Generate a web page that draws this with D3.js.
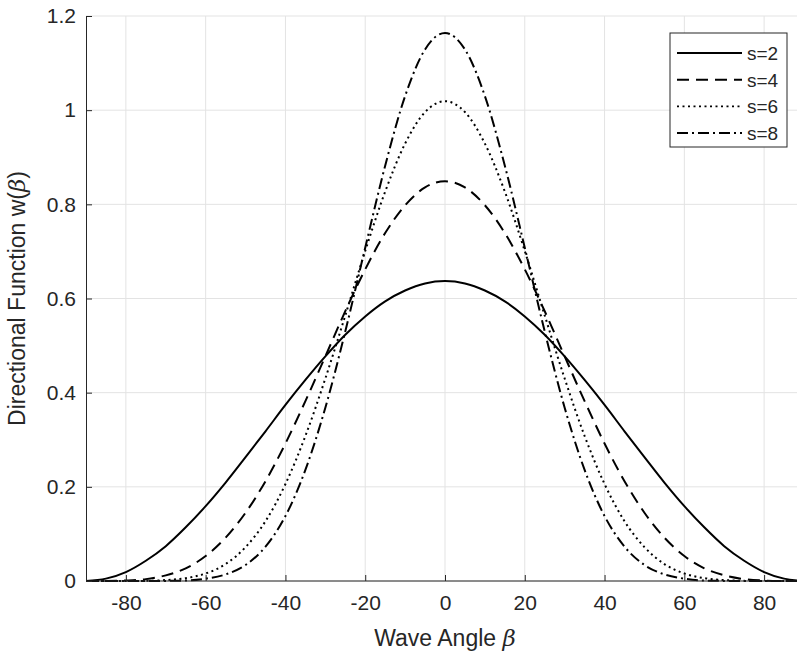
<!DOCTYPE html>
<html lang="en">
<head>
<meta charset="UTF-8">
<title>Directional Function</title>
<style>
  body { margin: 0; background: #fff; overflow: hidden; }
  svg { display: block; font-family: "Liberation Sans", Arial, sans-serif; }
  .grid line { stroke: #e3e3e3; stroke-width: 1; }
  .axis path, .axis line { stroke: #262626; }
  .axis text { fill: #262626; font-size: 21px; }
  .curve { fill: none; stroke: #000; stroke-width: 2; }
</style>
</head>
<body>
<div id="chart"></div>
<script src="https://d3js.org/d3.v7.min.js"></script>
<script>
// wave angle (deg), read every 5 degrees
const angles = [-90,-85,-80,-75,-70,-65,-60,-55,-50,-45,-40,-35,-30,-25,-20,-15,-10,-5,0,
                5,10,15,20,25,30,35,40,45,50,55,60,65,70,75,80,85,90];

const s2 = [0,0.005,0.019,0.043,0.074,0.114,0.159,0.209,0.263,0.318,0.374,0.427,0.477,0.523,0.562,0.594,0.617,0.632,0.637,
            0.632,0.617,0.594,0.562,0.523,0.477,0.427,0.374,0.318,0.263,0.209,0.159,0.114,0.074,0.043,0.019,0.005,0];
const s4 = [0,0,0.001,0.004,0.012,0.027,0.053,0.092,0.145,0.212,0.292,0.382,0.477,0.573,0.662,0.739,0.798,0.836,0.849,
            0.836,0.798,0.739,0.662,0.573,0.477,0.382,0.292,0.212,0.145,0.092,0.053,0.027,0.012,0.004,0.001,0,0];
const s6 = [0,0,0,0.0003,0.002,0.006,0.016,0.036,0.072,0.127,0.206,0.308,0.430,0.564,0.701,0.827,0.929,0.996,1.019,
            0.996,0.929,0.827,0.701,0.564,0.430,0.308,0.206,0.127,0.072,0.036,0.016,0.006,0.002,0.0003,0,0,0];
const s8 = [0,0,0,0,0.0002,0.001,0.005,0.014,0.034,0.073,0.138,0.236,0.368,0.530,0.708,0.882,1.030,1.129,1.164,
            1.129,1.030,0.882,0.708,0.530,0.368,0.236,0.138,0.073,0.034,0.014,0.005,0.001,0.0002,0,0,0,0];

const seriesNames = ["s=2", "s=4", "s=6", "s=8"];
const seriesValues = [s2, s4, s6, s8];
const dashes = [null, "12,7", "2,3.5", "11,4,2,4"];

const xTicks = [-80,-60,-40,-20,0,20,40,60,80];
const yTicks = [0,0.2,0.4,0.6,0.8,1,1.2];

const width = 797, height = 653;
const margin = {left: 86, right: -7, top: 16, bottom: 72};

const svg = d3.select("#chart").append("svg")
    .attr("width", width)
    .attr("height", height);

const x = d3.scaleLinear().domain([-90, 90]).range([margin.left, width - margin.right]);
const y = d3.scaleLinear().domain([0, 1.2]).range([height - margin.bottom, margin.top]);

// grid
const grid = svg.append("g").attr("class", "grid");
grid.selectAll(".gx").data(xTicks).enter().append("line")
    .attr("x1", d => x(d)).attr("x2", d => x(d))
    .attr("y1", y(0)).attr("y2", y(1.2));
grid.selectAll(".gy").data(yTicks).enter().append("line")
    .attr("x1", x(-90)).attr("x2", x(90))
    .attr("y1", d => y(d)).attr("y2", d => y(d));

// curves
const line = d3.line()
    .x((d, i) => x(angles[i]))
    .y(d => y(d))
    .curve(d3.curveMonotoneX);

svg.selectAll(".curve").data(seriesValues).enter().append("path")
    .attr("class", "curve")
    .attr("d", d => line(d))
    .attr("stroke-dasharray", (d, i) => dashes[i])
    .attr("stroke-width", (d, i) => i === 2 ? 1.8 : 2);

// axes, ticks pointing inward like matlab, plain hyphen minus
const xAxis = svg.append("g").attr("class", "axis")
    .attr("transform", `translate(0,${y(0)})`)
    .call(d3.axisBottom(x).tickValues(xTicks).tickFormat(d => String(d))
        .tickSizeInner(-6).tickSizeOuter(0).tickPadding(14));
xAxis.select(".domain").attr("d", `M${x(-90)},0H${x(90)}`);

const yAxis = svg.append("g").attr("class", "axis")
    .attr("transform", `translate(${x(-90)},0)`)
    .call(d3.axisLeft(y).tickValues(yTicks).tickFormat(d => String(d))
        .tickSizeInner(-6).tickSizeOuter(0).tickPadding(10));

// axis labels
const xl = svg.append("text")
    .attr("x", x(0)).attr("y", 646)
    .attr("text-anchor", "middle")
    .attr("fill", "#262626")
    .style("font-size", "23px");
xl.append("tspan").text("Wave Angle ");
xl.append("tspan").attr("font-style", "italic").attr("font-family", "DejaVu Serif").text("β");

const yl = svg.append("text")
    .attr("transform", `translate(25,${(y(0) + y(1.2)) / 2}) rotate(-90)`)
    .attr("text-anchor", "middle")
    .attr("fill", "#262626")
    .style("font-size", "23px");
yl.append("tspan").text("Directional Function w(");
yl.append("tspan").attr("font-style", "italic").attr("font-family", "DejaVu Serif").text("β");
yl.append("tspan").text(")");

// legend
const legend = svg.append("g").attr("transform", "translate(670,33)");
legend.append("rect")
    .attr("width", 117).attr("height", 114)
    .attr("fill", "#fff").attr("stroke", "#262626").attr("stroke-width", 1);

const rows = legend.selectAll(".row").data(seriesNames).enter().append("g")
    .attr("transform", (d, i) => `translate(0,${20 + i * 26.7})`);
rows.append("line")
    .attr("x1", 7).attr("x2", 72)
    .attr("stroke", "#000")
    .attr("stroke-width", (d, i) => i === 2 ? 1.8 : 2)
    .attr("stroke-dasharray", (d, i) => dashes[i]);
rows.append("text")
    .attr("x", 77).attr("y", 7)
    .attr("fill", "#262626")
    .style("font-size", "19px")
    .text(d => d);
</script>
</body>
</html>
